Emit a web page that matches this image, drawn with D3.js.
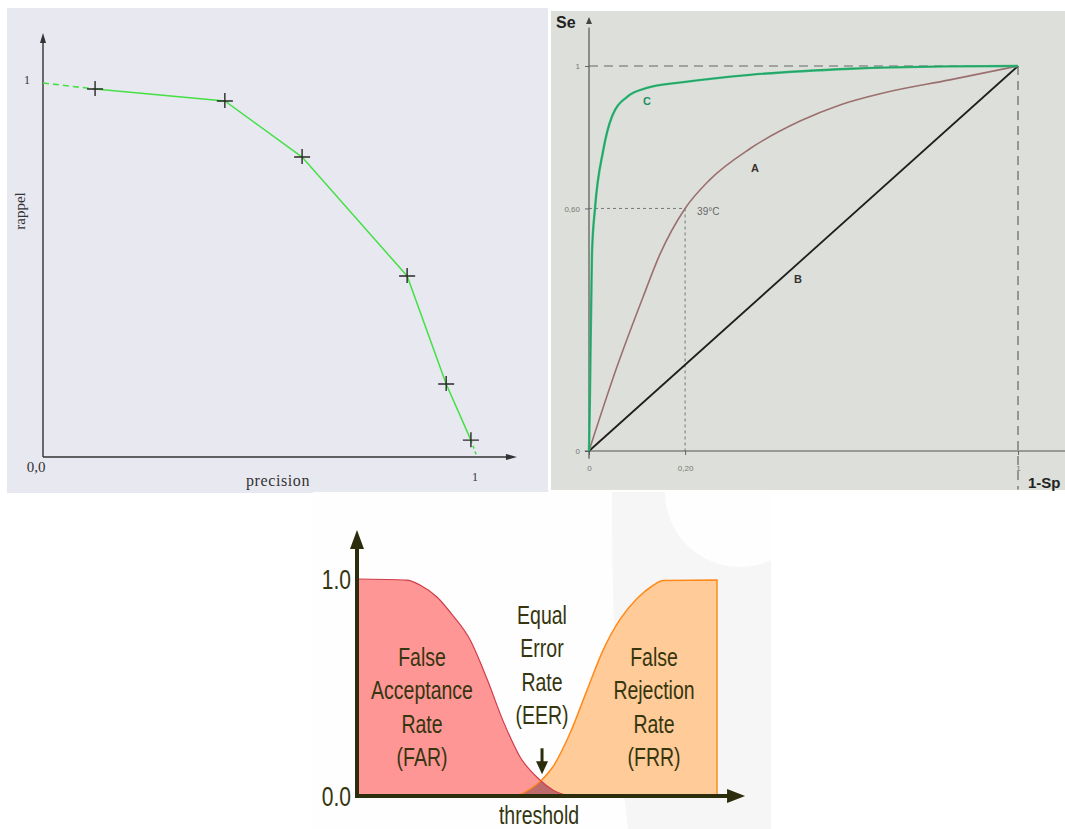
<!DOCTYPE html>
<html>
<head>
<meta charset="utf-8">
<script src="https://cdn.jsdelivr.net/npm/d3@7"></script>
<style>
  body { margin: 0; background: #fff; }
  svg { display: block; }
</style>
</head>
<body>
<svg id="chart"></svg>
<script>
// ---------- panel 1 : precision / rappel
var prPrecision = [0.12, 0.419, 0.597, 0.839, 0.929, 0.986];
var prRecall    = [0.984, 0.952, 0.802, 0.484, 0.195, 0.045];

// ---------- panel 2 : ROC curves A, B, C
var rocAx = [0, 0.065, 0.126, 0.165, 0.224, 0.282, 0.375, 0.492, 0.585, 0.686, 0.841, 1];
var rocAy = [0, 0.218, 0.40, 0.51, 0.63, 0.705, 0.785, 0.857, 0.899, 0.93, 0.964, 1];
var rocBx = [0, 1];
var rocBy = [0, 1];
var rocCx = [0, 0.002, 0.007, 0.014, 0.033, 0.054, 0.089, 0.135, 0.22, 0.375, 0.61, 0.84, 1];
var rocCy = [0, 0.13, 0.514, 0.63, 0.78, 0.87, 0.92, 0.943, 0.958, 0.977, 0.993, 0.999, 1];
var rocXTicks = [0, 0.224, 1];
var rocXTickLabels = ["0", "0,20", "1"];
var rocYTicks = [0, 0.63, 1];
var rocYTickLabels = ["0", "0,60", "1"];
var cutoffPoint = { x: 0.224, y: 0.63, label: "39°C" };

// ---------- panel 3 : FAR / FRR
var farX = [0, 0.139, 0.175, 0.222, 0.267, 0.314, 0.361, 0.406, 0.453, 0.508, 0.544, 0.578];
var farY = [1, 0.995, 0.972, 0.917, 0.83, 0.72, 0.54, 0.345, 0.18, 0.074, 0.028, 0.005];
var frrX = [0.453, 0.508, 0.544, 0.592, 0.639, 0.683, 0.731, 0.778, 0.822, 0.85, 1];
var frrY = [0.005, 0.065, 0.134, 0.29, 0.488, 0.67, 0.815, 0.91, 0.97, 0.993, 0.995];
var eerX = 0.514;
var errYTicks = [0, 1];
var errYTickLabels = ["0.0", "1.0"];

function zip(xs, ys) {
    return xs.map(function(x, i) { return { x: x, y: ys[i] }; });
}

var svg = d3.select("#chart")
    .attr("width", 1065)
    .attr("height", 829);

// =====================================================================
// Panel 1
// =====================================================================
var p1 = svg.append("g");
p1.append("rect")
    .attr("x", 7).attr("y", 8).attr("width", 541).attr("height", 485)
    .attr("fill", "#e8e8f1");

var x1 = d3.scaleLinear().domain([0, 1]).range([43, 477]);
var y1 = d3.scaleLinear().domain([0, 1]).range([457, 83]);

// axes (plain lines with arrow heads)
p1.append("line")
    .attr("x1", x1(0)).attr("y1", y1(0))
    .attr("x2", x1(0)).attr("y2", y1(1.12))
    .attr("stroke", "#333").attr("stroke-width", 1.4);
p1.append("path")
    .attr("d", "M" + x1(0) + "," + y1(1.134) + " l-3,10 l6,0 z")
    .attr("fill", "#333");
p1.append("line")
    .attr("x1", x1(0)).attr("y1", y1(0))
    .attr("x2", x1(1.08)).attr("y2", y1(0))
    .attr("stroke", "#333").attr("stroke-width", 1.4);
p1.append("path")
    .attr("d", "M" + x1(1.092) + "," + y1(0) + " l-11,-3 l0,6 z")
    .attr("fill", "#333");

var prPoints = zip(prPrecision, prRecall);
var line1 = d3.line().x(function(d) { return x1(d.x); }).y(function(d) { return y1(d.y); });

// dashed extensions to the axes
p1.append("path")
    .attr("d", line1([{ x: 0, y: 1 }, prPoints[0]]))
    .attr("fill", "none").attr("stroke", "#44e044").attr("stroke-width", 1.6)
    .attr("stroke-dasharray", "6,4");
p1.append("path")
    .attr("d", line1([prPoints[prPoints.length - 1], { x: 1, y: 0 }]))
    .attr("fill", "none").attr("stroke", "#44e044").attr("stroke-width", 1.6)
    .attr("stroke-dasharray", "3,3");
p1.append("path")
    .attr("d", line1(prPoints))
    .attr("fill", "none").attr("stroke", "#44e044").attr("stroke-width", 1.5);

// + markers
p1.selectAll(".cross")
    .data(prPoints)
    .enter().append("path")
    .attr("class", "cross")
    .attr("d", function(d) {
        var cx = x1(d.x), cy = y1(d.y);
        return "M" + (cx - 8) + "," + cy + "H" + (cx + 8) + "M" + cx + "," + (cy - 8) + "V" + (cy + 7);
    })
    .attr("stroke", "#2a2a2a").attr("stroke-width", 1.4);

var serif = "'Liberation Serif', 'DejaVu Serif', serif";
p1.append("text")
    .attr("x", 27).attr("y", y1(1) + 1)
    .attr("text-anchor", "middle")
    .style("font-family", serif).style("font-size", "12px").style("fill", "#333")
    .text("1");
p1.append("text")
    .attr("x", 36).attr("y", 472)
    .attr("text-anchor", "middle")
    .style("font-family", serif).style("font-size", "15px").style("fill", "#333")
    .text("0,0");
p1.append("text")
    .attr("x", x1(1) - 2).attr("y", 481)
    .attr("text-anchor", "middle")
    .style("font-family", serif).style("font-size", "12px").style("fill", "#333")
    .text("1");
p1.append("text")
    .attr("x", 278).attr("y", 486)
    .attr("text-anchor", "middle")
    .style("font-family", serif).style("font-size", "16px").style("fill", "#333")
    .style("letter-spacing", "0.6px")
    .text("precision");
p1.append("text")
    .attr("transform", "translate(25,211) rotate(-90)")
    .attr("text-anchor", "middle")
    .style("font-family", serif).style("font-size", "15px").style("fill", "#333")
    .text("rappel");

// =====================================================================
// Panel 2
// =====================================================================
var p2 = svg.append("g");
p2.append("rect")
    .attr("x", 551).attr("y", 11).attr("width", 514).attr("height", 479)
    .attr("fill", "#dde0da");

var x2 = d3.scaleLinear().domain([0, 1]).range([589, 1018]);
var y2 = d3.scaleLinear().domain([0, 1]).range([451, 66]);

// dashed guide lines at Se = 1 and 1-Sp = 1
p2.append("line")
    .attr("x1", x2(0)).attr("y1", y2(1)).attr("x2", x2(1)).attr("y2", y2(1))
    .attr("stroke", "#666").attr("stroke-width", 1.2).attr("stroke-dasharray", "9,6");
p2.append("line")
    .attr("x1", x2(1)).attr("y1", y2(1)).attr("x2", x2(1)).attr("y2", y2(-0.1))
    .attr("stroke", "#666").attr("stroke-width", 1.2).attr("stroke-dasharray", "9,6");

// dotted cut-off lines
p2.append("line")
    .attr("x1", x2(0)).attr("y1", y2(cutoffPoint.y)).attr("x2", x2(cutoffPoint.x)).attr("y2", y2(cutoffPoint.y))
    .attr("stroke", "#777").attr("stroke-width", 1).attr("stroke-dasharray", "3,3");
p2.append("line")
    .attr("x1", x2(cutoffPoint.x)).attr("y1", y2(cutoffPoint.y)).attr("x2", x2(cutoffPoint.x)).attr("y2", y2(0))
    .attr("stroke", "#777").attr("stroke-width", 1).attr("stroke-dasharray", "3,3");

// axes
var yAxis2 = d3.axisLeft(y2)
    .tickValues(rocYTicks)
    .tickFormat(function(d, i) { return rocYTickLabels[i]; })
    .tickSize(4).tickPadding(5);
var gy2 = p2.append("g").attr("transform", "translate(" + x2(0) + ",0)").call(yAxis2);
var xAxis2 = d3.axisBottom(x2)
    .tickValues(rocXTicks)
    .tickFormat(function(d, i) { return rocXTickLabels[i]; })
    .tickSize(4).tickPadding(10);
var gx2 = p2.append("g").attr("transform", "translate(0," + y2(0) + ")").call(xAxis2);
[gx2, gy2].forEach(function(g) {
    g.select(".domain").remove();
    g.selectAll("line").attr("stroke", "#666");
    g.selectAll("text").style("font-family", "'Liberation Sans', Arial, sans-serif")
        .style("font-size", "8px").style("fill", "#777");
});
p2.append("line")
    .attr("x1", x2(0)).attr("y1", y2(-0.02)).attr("x2", x2(0)).attr("y2", y2(1.1))
    .attr("stroke", "#555").attr("stroke-width", 1.2);
p2.append("path")
    .attr("d", "M" + x2(0) + "," + y2(1.127) + " l-3,7 l6,0 z")
    .attr("fill", "#444");
p2.append("line")
    .attr("x1", x2(-0.01)).attr("y1", y2(0)).attr("x2", 1065).attr("y2", y2(0))
    .attr("stroke", "#555").attr("stroke-width", 1.2);

var line2 = d3.line()
    .x(function(d) { return x2(d.x); })
    .y(function(d) { return y2(d.y); })
    .curve(d3.curveMonotoneX);

p2.append("path")
    .attr("d", line2(zip(rocBx, rocBy)))
    .attr("fill", "none").attr("stroke", "#1e1e1e").attr("stroke-width", 1.8);
p2.append("path")
    .attr("d", line2(zip(rocAx, rocAy)))
    .attr("fill", "none").attr("stroke", "#9c6f6f").attr("stroke-width", 1.6);
p2.append("path")
    .attr("d", line2(zip(rocCx, rocCy)))
    .attr("fill", "none").attr("stroke", "#2fba78").attr("stroke-width", 2.4);
p2.append("path")
    .attr("d", line2(zip(rocCx, rocCy)))
    .attr("fill", "none").attr("stroke", "#1f7f52").attr("stroke-width", 0.7).attr("opacity", 0.7);

var sans = "'Liberation Sans', Arial, sans-serif";
var curveLabels = [
    { t: "C", x: 647, y: 105, c: "#1f8f5e" },
    { t: "A", x: 755, y: 172, c: "#3a3030" },
    { t: "B", x: 798, y: 283, c: "#333" }
];
p2.selectAll(".clabel")
    .data(curveLabels)
    .enter().append("text")
    .attr("class", "clabel")
    .attr("x", function(d) { return d.x; })
    .attr("y", function(d) { return d.y; })
    .attr("text-anchor", "middle")
    .style("font-family", sans).style("font-weight", "bold").style("font-size", "11px")
    .style("fill", function(d) { return d.c; })
    .text(function(d) { return d.t; });
p2.append("text")
    .attr("x", x2(cutoffPoint.x) + 12).attr("y", y2(cutoffPoint.y) + 7)
    .style("font-family", sans).style("font-size", "10px").style("fill", "#666")
    .text(cutoffPoint.label);
p2.append("text")
    .attr("x", 556).attr("y", 28)
    .style("font-family", sans).style("font-weight", "bold").style("font-size", "16px").style("fill", "#222")
    .text("Se");
p2.append("text")
    .attr("x", 1028).attr("y", 488)
    .style("font-family", sans).style("font-weight", "bold").style("font-size", "15px").style("fill", "#222")
    .text("1-Sp");

// =====================================================================
// Panel 3
// =====================================================================
var p3 = svg.append("g");
p3.append("clipPath").attr("id", "p3clip")
    .append("rect").attr("x", 313).attr("y", 492).attr("width", 458).attr("height", 337);
p3.append("rect")
    .attr("x", 313).attr("y", 492).attr("width", 458).attr("height", 337)
    .attr("fill", "#fefefe");
// faint watermark ring in the background
p3.append("path")
    .attr("clip-path", "url(#p3clip)")
    .attr("fill-rule", "evenodd")
    .attr("d", "M612,492 H771 V829 H628 Q612,700 612,492 Z" +
               "M665,492 A75,75 0 0 0 815,492 Z")
    .attr("fill", "#f6f6f6");

var x3 = d3.scaleLinear().domain([0, 1]).range([357, 717]);
var y3 = d3.scaleLinear().domain([0, 1]).range([796, 579]);

var area3 = d3.area()
    .x(function(d) { return x3(d.x); })
    .y0(y3(0))
    .y1(function(d) { return y3(d.y); })
    .curve(d3.curveMonotoneX);
var line3 = d3.line()
    .x(function(d) { return x3(d.x); })
    .y(function(d) { return y3(d.y); })
    .curve(d3.curveMonotoneX);

var farData = zip(farX, farY);
var frrData = zip(frrX, frrY);

p3.append("clipPath").attr("id", "farclip")
    .append("path").attr("d", area3(farData));

p3.append("path").attr("d", area3(farData)).attr("fill", "#ff9696");
p3.append("path").attr("d", area3(frrData)).attr("fill", "#ffcb98")
    .attr("stroke", "#ff8a1c").attr("stroke-width", 1.5);
// overlap of the two error areas
p3.append("path").attr("d", area3(frrData)).attr("clip-path", "url(#farclip)")
    .attr("fill", "#bd6b6b");
p3.append("path").attr("d", line3(farData))
    .attr("fill", "none").attr("stroke", "#cf3d4b").attr("stroke-width", 1.2);
p3.append("path").attr("d", line3(frrData.slice(0, 3)))
    .attr("fill", "none").attr("stroke", "#ff8a1c").attr("stroke-width", 1.2).attr("opacity", 0.6);

// axes
var axisColor = "#2c2d0c";
p3.append("line")
    .attr("x1", x3(0)).attr("y1", y3(0) + 2).attr("x2", x3(0)).attr("y2", y3(1.15))
    .attr("stroke", axisColor).attr("stroke-width", 4);
p3.append("path")
    .attr("d", "M" + x3(0) + "," + y3(1.226) + " l-7,19 l14,0 z")
    .attr("fill", axisColor);
p3.append("line")
    .attr("x1", x3(0) - 2).attr("y1", y3(0)).attr("x2", x3(1.04)).attr("y2", y3(0))
    .attr("stroke", axisColor).attr("stroke-width", 4);
p3.append("path")
    .attr("d", "M" + x3(1.078) + "," + y3(0) + " l-18,-7 l0,14 z")
    .attr("fill", axisColor);

// EER arrow
var eerTip = y3(0.1);
p3.append("line")
    .attr("x1", x3(eerX)).attr("y1", eerTip - 26).attr("x2", x3(eerX)).attr("y2", eerTip - 8)
    .attr("stroke", axisColor).attr("stroke-width", 3);
p3.append("path")
    .attr("d", "M" + x3(eerX) + "," + eerTip + " l-6,-13 l12,0 z")
    .attr("fill", axisColor);

var textColor = "#35350f";
function condensedText(g, x, y, str, size, anchor) {
    g.append("text")
        .attr("transform", "translate(" + x + "," + y + ") scale(0.78,1)")
        .attr("text-anchor", anchor || "middle")
        .attr("dy", "0.35em")
        .style("font-family", sans)
        .style("font-size", size + "px")
        .style("fill", textColor)
        .text(str);
}

errYTicks.forEach(function(v, i) {
    condensedText(p3, 351, y3(v) + 1, errYTickLabels[i], 27, "end");
});

var blocks = [
    { x: 422, lines: ["False", "Acceptance", "Rate", "(FAR)"], top: 657 },
    { x: 542, lines: ["Equal", "Error", "Rate", "(EER)"], top: 615 },
    { x: 654, lines: ["False", "Rejection", "Rate", "(FRR)"], top: 657 }
];
blocks.forEach(function(b) {
    b.lines.forEach(function(s, i) {
        condensedText(p3, b.x, b.top + i * 33.5, s, 25);
    });
});
condensedText(p3, 539, 815, "threshold", 25);
</script>
</body>
</html>
